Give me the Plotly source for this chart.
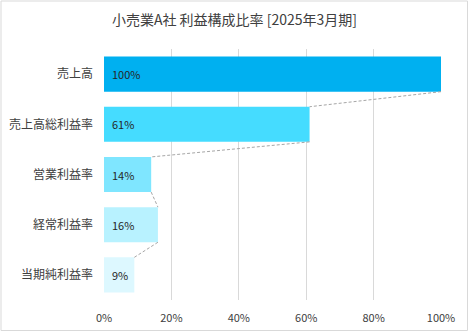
import plotly.graph_objects as go

categories = ["売上高", "売上高総利益率", "営業利益率", "経常利益率", "当期純利益率"]
values = [100, 61, 14, 16, 9]
colors = ["#00B0F0", "#45DCFF", "#7FE6FF", "#B8F2FF", "#DDF8FF"]
tick_vals = [0, 20, 40, 60, 80, 100]
tick_text = ["0%", "20%", "40%", "60%", "80%", "100%"]
title = "小売業A社 利益構成比率 [2025年3月期]"

FONT = "Noto Sans CJK JP"
idx = list(range(len(categories)))
half = 0.35

fig = go.Figure()
fig.add_trace(go.Bar(
    x=values, y=idx, orientation="h", width=2 * half,
    marker=dict(color=colors, line=dict(width=0)),
    hoverinfo="skip", showlegend=False,
))

# connector lines: bottom-right of bar i to top-right of bar i+1
cx, cy = [], []
for i in range(len(values) - 1):
    cx += [values[i], values[i + 1], None]
    cy += [i + half, i + 1 - half, None]
fig.add_trace(go.Scatter(
    x=cx, y=cy, mode="lines",
    line=dict(color="#A6A6A6", width=1, dash="3px,2px"),
    hoverinfo="skip", showlegend=False,
))

for i, v in enumerate(values):
    fig.add_annotation(x=0, y=i, xref="x", yref="y", text=f"{v}%",
                       showarrow=False, xanchor="left", yanchor="middle", xshift=6,
                       font=dict(family=FONT, size=11, color="#262626"))

W, H = 469, 332
ml, mr, mt, mb = 104, 28, 49, 32
pw, ph = W - ml - mr, H - mt - mb

fig.update_layout(
    width=W, height=H,
    margin=dict(l=ml, r=mr, t=mt, b=mb),
    paper_bgcolor="white", plot_bgcolor="white",
    font=dict(family=FONT, color="#404040"),
    title=dict(text=title, x=0.5, xanchor="center", y=1 - 20 / H, yanchor="middle",
               font=dict(family=FONT, size=14, color="#404040")),
    xaxis=dict(range=[0, 100], tickvals=tick_vals, ticktext=tick_text,
               showgrid=True, gridcolor="#D9D9D9", gridwidth=1,
               zeroline=False, showline=False, ticks="", automargin=False,
               ticklabelstandoff=10,
               tickfont=dict(family=FONT, size=11, color="#404040"),
               fixedrange=True),
    yaxis=dict(range=[len(categories) - 0.5, -0.5], tickvals=idx, ticktext=categories,
               showgrid=False, zeroline=False, showline=False, ticks="", automargin=False,
               ticklabelstandoff=10,
               tickfont=dict(family=FONT, size=12, color="#404040"),
               fixedrange=True),
    bargap=0.3,
    shapes=[dict(type="rect", xref="paper", yref="paper",
                 x0=-(ml - 1) / pw, x1=1 + (mr - 1.5) / pw,
                 y0=-(mb - 1.5) / ph, y1=1 + (mt - 1) / ph,
                 line=dict(color="#D9D9D9", width=1), layer="below")],
)

fig.write_html("out.html")
